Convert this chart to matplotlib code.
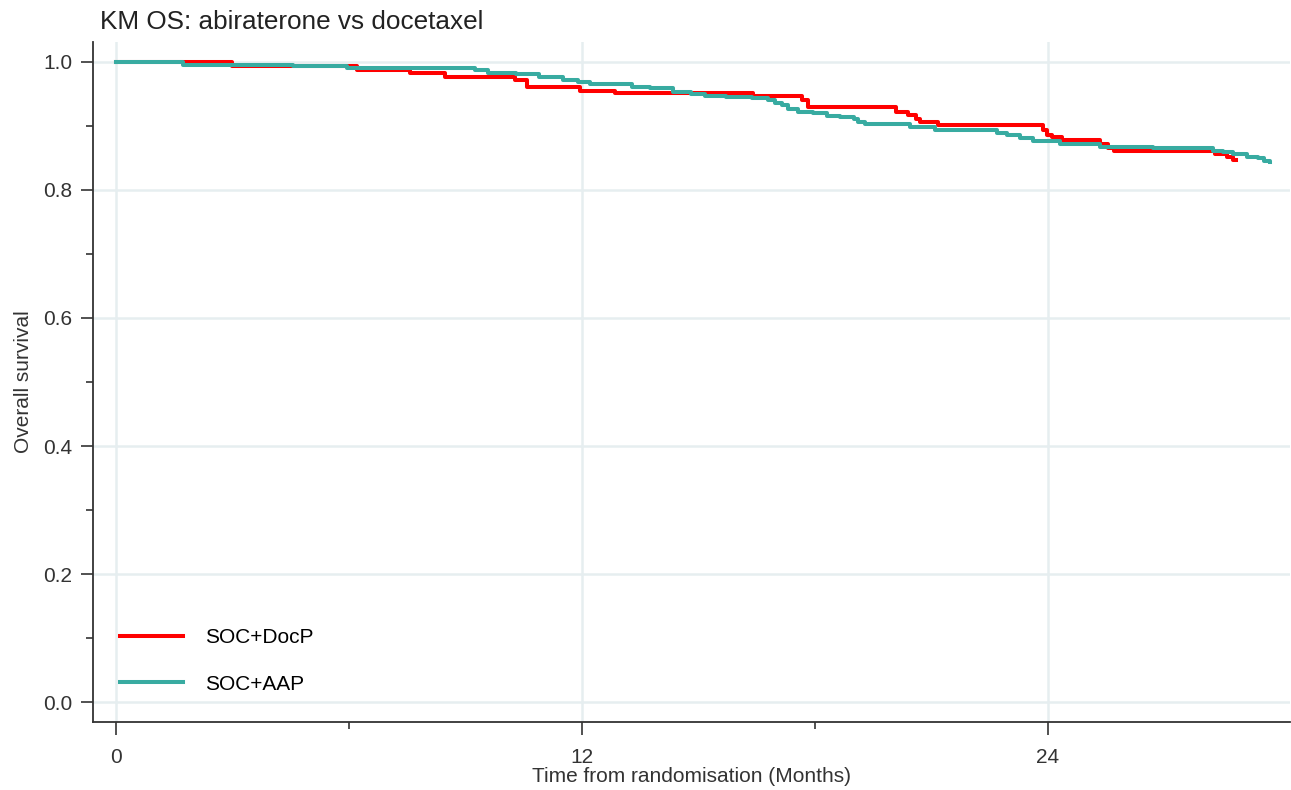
import numpy as np
import matplotlib
matplotlib.use("Agg")
import matplotlib.pyplot as plt
from matplotlib.ticker import MultipleLocator, FixedLocator

plt.rcParams["font.family"] = ["Liberation Sans", "DejaVu Sans"]

# Kaplan-Meier step estimates: (month, survival from that month on)
doc_time = [0, 3.0, 6.2, 7.57, 8.47, 10.28, 10.58, 11.95, 12.85, 16.4, 17.66,
            17.82, 20.09, 20.4, 20.6, 20.7, 21.17, 23.88, 23.97, 24.1, 24.35,
            25.34, 25.55, 25.7, 28.3, 28.6, 28.77, 28.85]
doc_surv = [1.0, 0.993, 0.9875, 0.982, 0.977, 0.972, 0.961, 0.955, 0.951, 0.947, 0.9406,
            0.930, 0.9224, 0.917, 0.910, 0.9057, 0.9016, 0.894, 0.886, 0.882, 0.878,
            0.872, 0.866, 0.860, 0.8557, 0.852, 0.846, 0.846]

aap_time = [0, 1.73, 4.57, 5.94, 9.25, 9.58, 10.3, 10.9, 11.5, 11.9, 12.2,
            13.3, 13.75, 14.35, 14.8, 15.17, 15.7, 16.37, 16.8, 16.97, 17.14,
            17.3, 17.57, 17.96, 18.3, 18.65, 19.0, 19.1, 19.3, 20.45, 21.1,
            22.68, 22.94, 23.28, 23.6, 24.3, 25.34, 26.7, 28.25, 28.5, 28.77,
            29.12, 29.4, 29.55, 29.72]
aap_surv = [1.0, 0.9953, 0.9938, 0.9902, 0.9875, 0.982, 0.981, 0.977, 0.972, 0.968, 0.9656,
            0.961, 0.9589, 0.9536, 0.9495, 0.947, 0.9458, 0.943, 0.9406, 0.9365, 0.933,
            0.926, 0.9224, 0.9198, 0.916, 0.9135, 0.910, 0.9068, 0.9026, 0.899, 0.894,
            0.8885, 0.885, 0.8808, 0.877, 0.871, 0.8677, 0.865, 0.8615, 0.8589, 0.8557,
            0.852, 0.8495, 0.8458, 0.8437]

arms = ["SOC+DocP", "SOC+AAP"]
colors = ["#ff0000", "#38aba1"]

fig = plt.figure(figsize=(12.91, 7.90), dpi=100)
ax = fig.add_axes([93 / 1291, 1 - 722 / 790, 1197 / 1291, 680 / 790])

grid_c = "#e6eef0"
for y in np.arange(0, 1.01, 0.2):
    ax.axhline(y, color=grid_c, lw=1.8, zorder=0)
for x in [0, 12, 24]:
    ax.axvline(x, color=grid_c, lw=1.8, zorder=0)

ax.step(doc_time, doc_surv, where="post", color=colors[0], lw=2.9, label=arms[0])
ax.step(aap_time, aap_surv, where="post", color=colors[1], lw=2.9, label=arms[1])

ax.set_xlim(-0.59, 30.23)
ax.set_ylim(-0.031, 1.031)

ax.xaxis.set_major_locator(FixedLocator([0, 12, 24]))
ax.xaxis.set_minor_locator(FixedLocator([6, 18]))
ax.yaxis.set_major_locator(MultipleLocator(0.2))
ax.yaxis.set_minor_locator(FixedLocator([0.1, 0.3, 0.5, 0.7, 0.9]))
ax.set_yticklabels([f"{v:.1f}" for v in ax.get_yticks()])

for s in ["top", "right"]:
    ax.spines[s].set_visible(False)
for s in ["left", "bottom"]:
    ax.spines[s].set_color("#333333")
    ax.spines[s].set_linewidth(1.3)

ax.tick_params(which="major", length=9, width=1.2, color="#333333",
               labelsize=15, labelcolor="#333333")
ax.tick_params(axis="x", which="major", pad=10)
ax.tick_params(axis="y", which="major", pad=6)
ax.tick_params(which="minor", length=5, width=1.2, color="#333333")

ax.set_xlabel("Time from randomisation (Months)", fontsize=15, color="#333333", labelpad=0)
ax.set_ylabel("Overall survival", fontsize=15, color="#333333", labelpad=7)

fig.text(100 / 1291, 1 - 29 / 790, "KM OS: abiraterone vs docetaxel",
         fontsize=18.8, color="#222222", ha="left", va="baseline")

ax.legend(loc="lower left", bbox_to_anchor=(0.0, 0.002), frameon=False,
          fontsize=15, handlelength=3.0, handletextpad=1.1, labelspacing=1.3,
          borderaxespad=0.9)

fig.savefig("out.png", dpi=100)
